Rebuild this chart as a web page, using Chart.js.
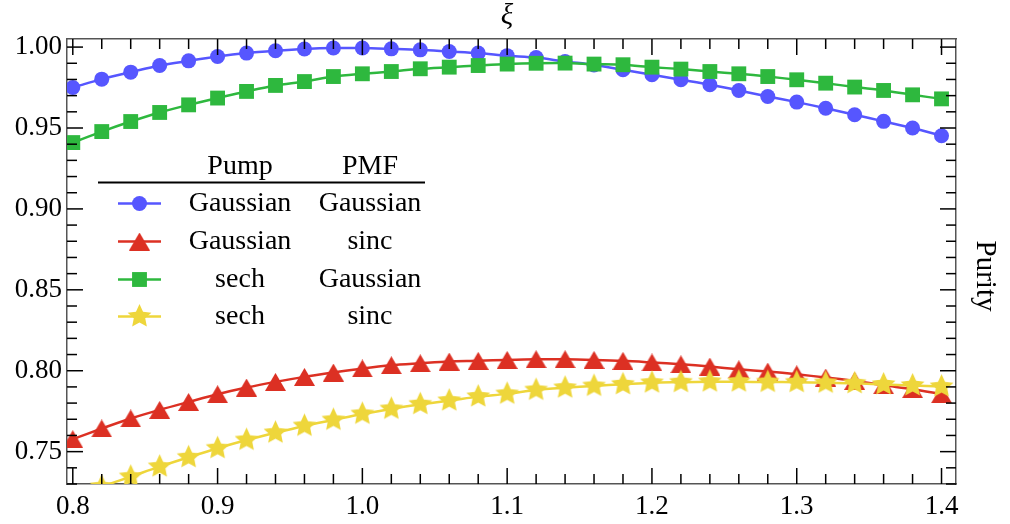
<!DOCTYPE html>
<html>
<head>
<meta charset="utf-8">
<script src="https://cdn.jsdelivr.net/npm/chart.js@4.4.1/dist/chart.umd.min.js"></script>
<style>
  html, body { margin: 0; padding: 0; background: #fff; }
  #wrap { width: 1010px; height: 524px; }
</style>
</head>
<body>
<div id="wrap"><canvas id="purity"></canvas></div>
<script>
// xi sampled every 0.02
const xi = [0.80, 0.82, 0.84, 0.86, 0.88, 0.90, 0.92, 0.94, 0.96, 0.98,
            1.00, 1.02, 1.04, 1.06, 1.08, 1.10, 1.12, 1.14, 1.16, 1.18,
            1.20, 1.22, 1.24, 1.26, 1.28, 1.30, 1.32, 1.34, 1.36, 1.38, 1.40]

const gaussGauss = [0.9750, 0.9802, 0.9845, 0.9886, 0.9915, 0.9942, 0.9963, 0.9977, 0.9988, 0.9994,
                    0.9994, 0.9989, 0.9983, 0.9973, 0.9963, 0.9947, 0.9935, 0.9911, 0.9890, 0.9860,
                    0.9829, 0.9798, 0.9767, 0.9732, 0.9695, 0.9660, 0.9622, 0.9582, 0.9541, 0.9500, 0.9452]
const gaussSinc  = [0.7577, 0.7643, 0.7705, 0.7758, 0.7807, 0.7855, 0.7896, 0.7931, 0.7962, 0.7989,
                    0.8014, 0.8034, 0.8046, 0.8057, 0.8061, 0.8067, 0.8071, 0.8071, 0.8067, 0.8061,
                    0.8051, 0.8040, 0.8026, 0.8009, 0.7995, 0.7978, 0.7958, 0.7937, 0.7910, 0.7886, 0.7855]
const sechGauss  = [0.9410, 0.9478, 0.9540, 0.9596, 0.9643, 0.9685, 0.9726, 0.9763, 0.9787, 0.9818,
                    0.9835, 0.9849, 0.9866, 0.9876, 0.9886, 0.9895, 0.9900, 0.9901, 0.9895, 0.9891,
                    0.9876, 0.9864, 0.9849, 0.9835, 0.9818, 0.9798, 0.9777, 0.9753, 0.9732, 0.9705, 0.9680]
const sechSinc   = [0.7220, 0.7284, 0.7345, 0.7407, 0.7465, 0.7521, 0.7572, 0.7617, 0.7659, 0.7696,
                    0.7733, 0.7764, 0.7793, 0.7815, 0.7840, 0.7857, 0.7881, 0.7895, 0.7906, 0.7916,
                    0.7926, 0.7929, 0.7932, 0.7932, 0.7930, 0.7929, 0.7925, 0.7922, 0.7915, 0.7909, 0.7902]

const xTicks = [0.8, 0.9, 1.0, 1.1, 1.2, 1.3, 1.4]
const yTicks = [0.75, 0.80, 0.85, 0.90, 0.95, 1.00]

const pumpLabels = ["Gaussian", "Gaussian", "sech", "sech"]
const pmfLabels = ["Gaussian", "sinc", "Gaussian", "sinc"]

const SERIF = "'Liberation Serif', 'DejaVu Serif', serif"
const BLUE = "#5656ff"
const RED = "#dc3023"
const GREEN = "#2eb83e"
const YELLOW = "#eed63b"

function triangleMarker(color, w, h) {
  const c = document.createElement("canvas")
  c.width = w
  c.height = h
  const ctx = c.getContext("2d")
  ctx.fillStyle = color
  ctx.beginPath()
  ctx.moveTo(w / 2, 0)
  ctx.lineTo(w, h)
  ctx.lineTo(0, h)
  ctx.closePath()
  ctx.fill()
  return c
}

function starMarker(color, outer, inner) {
  const size = Math.ceil(outer * 2) + 2
  const c = document.createElement("canvas")
  c.width = size
  c.height = size
  const ctx = c.getContext("2d")
  ctx.fillStyle = color
  ctx.beginPath()
  for (let i = 0; i < 10; i++) {
    const r = i % 2 ? inner : outer
    const a = -Math.PI / 2 + i * Math.PI / 5
    const px = size / 2 + r * Math.cos(a)
    const py = size / 2 + r * Math.sin(a)
    if (i === 0) ctx.moveTo(px, py)
    else ctx.lineTo(px, py)
  }
  ctx.closePath()
  ctx.fill()
  return c
}

const series = [
  { values: gaussGauss, color: BLUE, style: "circle", radius: 7.5, order: 4 },
  { values: gaussSinc, color: RED, style: triangleMarker(RED, 21, 18), radius: 10, order: 3 },
  { values: sechGauss, color: GREEN, style: "rect", radius: 10.5, order: 2 },
  { values: sechSinc, color: YELLOW, style: starMarker(YELLOW, 12.5, 6), radius: 12, order: 1 }
]

function drawMarker(ctx, s, x, y) {
  ctx.fillStyle = s.color
  if (s.style === "circle") {
    ctx.beginPath()
    ctx.arc(x, y, s.radius, 0, Math.PI * 2)
    ctx.fill()
  } else if (s.style === "rect") {
    const half = s.radius * Math.SQRT1_2
    ctx.fillRect(x - half, y - half, half * 2, half * 2)
  } else {
    ctx.drawImage(s.style, x - s.style.width / 2, y - s.style.height / 2)
  }
}

// inward ticks on all four sides of the frame
const innerTicks = {
  id: "innerTicks",
  afterDraw(chart) {
    const { ctx, chartArea: a, scales: { x, y } } = chart
    ctx.save()
    ctx.strokeStyle = "#000"
    ctx.lineWidth = 1.5
    const mark = (x1, y1, x2, y2) => {
      ctx.beginPath()
      ctx.moveTo(x1, y1)
      ctx.lineTo(x2, y2)
      ctx.stroke()
    }
    for (let i = 0; i <= 30; i++) {
      const px = x.getPixelForValue(0.8 + i * 0.02)
      const len = i % 5 === 0 ? 16 : 10
      mark(px, a.bottom, px, a.bottom - len)
      mark(px, a.top, px, a.top + len)
    }
    for (let i = 73; i <= 100; i++) {
      const py = y.getPixelForValue(i / 100)
      const len = i % 5 === 0 ? 16 : 10
      mark(a.left, py, a.left + len, py)
      mark(a.right, py, a.right - len, py)
    }
    ctx.restore()
  }
}

// two-column key (pump / phase-matching function) plus axis titles
const tableKey = {
  id: "tableKey",
  afterDraw(chart) {
    const { ctx } = chart
    ctx.save()
    ctx.fillStyle = "#000"
    ctx.font = `28px ${SERIF}`
    ctx.textAlign = "center"
    ctx.textBaseline = "alphabetic"
    ctx.fillText("Pump", 240, 174)
    ctx.fillText("PMF", 370, 174)

    ctx.strokeStyle = "#000"
    ctx.lineWidth = 2
    ctx.beginPath()
    ctx.moveTo(98, 182.5)
    ctx.lineTo(425, 182.5)
    ctx.stroke()

    const baselines = [211, 249, 287, 324]
    series.forEach((s, i) => {
      const my = baselines[i] - 7.5
      ctx.strokeStyle = s.color
      ctx.lineWidth = 2.5
      ctx.beginPath()
      ctx.moveTo(118, my)
      ctx.lineTo(161, my)
      ctx.stroke()
      drawMarker(ctx, s, 139.5, my)
      ctx.fillStyle = "#000"
      ctx.fillText(pumpLabels[i], 240, baselines[i])
      ctx.fillText(pmfLabels[i], 370, baselines[i])
    })

    ctx.textBaseline = "middle"
    ctx.font = `italic 29px ${SERIF}`
    ctx.fillText("ξ", 507, 16)

    ctx.font = `29px ${SERIF}`
    ctx.translate(985, 276)
    ctx.rotate(Math.PI / 2)
    ctx.fillText("Purity", 0, 0)
    ctx.restore()
  }
}

const tickFont = { family: SERIF, size: 27 }
const frame = { display: true, color: "#555", width: 1.5 }

new Chart(document.getElementById("purity"), {
  type: "line",
  data: {
    datasets: series.map(s => ({
      data: xi.map((v, i) => ({ x: v, y: s.values[i] })),
      borderColor: s.color,
      backgroundColor: s.color,
      borderWidth: 2.5,
      tension: 0.3,
      pointStyle: s.style,
      pointRadius: s.radius,
      pointBorderWidth: 0,
      pointBackgroundColor: s.color,
      order: s.order
    }))
  },
  options: {
    responsive: true,
    maintainAspectRatio: false,
    animation: false,
    layout: { padding: 0 },
    plugins: {
      legend: { display: false },
      tooltip: { enabled: false }
    },
    scales: {
      x: {
        type: "linear",
        position: "bottom",
        min: 0.796,
        max: 1.41,
        grid: { display: false, drawTicks: false },
        border: frame,
        afterBuildTicks: s => { s.ticks = xTicks.map(v => ({ value: v })) },
        afterFit: s => { s.height = 40 },
        ticks: {
          font: tickFont,
          color: "#000",
          padding: 7,
          maxRotation: 0,
          callback: v => v.toFixed(1)
        }
      },
      x2: {
        type: "linear",
        position: "top",
        min: 0.796,
        max: 1.41,
        grid: { display: false, drawTicks: false },
        border: frame,
        ticks: { display: false },
        afterFit: s => { s.height = 39 }
      },
      y: {
        type: "linear",
        position: "left",
        min: 0.73,
        max: 1.005,
        grid: { display: false, drawTicks: false },
        border: frame,
        afterBuildTicks: s => { s.ticks = yTicks.map(v => ({ value: v })) },
        afterFit: s => { s.width = 67 },
        ticks: {
          font: tickFont,
          color: "#000",
          padding: 5,
          callback: v => v.toFixed(2)
        }
      },
      y2: {
        type: "linear",
        position: "right",
        min: 0.73,
        max: 1.005,
        grid: { display: false, drawTicks: false },
        border: frame,
        ticks: { display: false },
        afterFit: s => { s.width = 54 }
      }
    }
  },
  plugins: [innerTicks, tableKey]
})
</script>
</body>
</html>
